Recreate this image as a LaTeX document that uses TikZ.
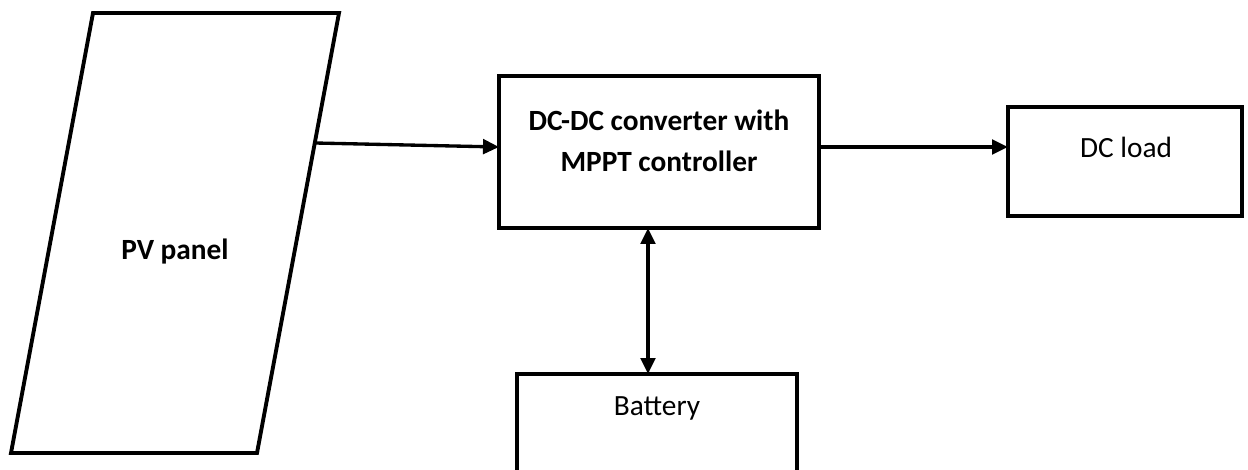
\documentclass[tikz,border=0pt]{standalone}
\usepackage{fontspec}
\setmainfont{Carlito}
\usetikzlibrary{arrows.meta}
\begin{document}
\begin{tikzpicture}[x=0.75pt,y=-0.75pt,
  box/.style={draw, line width=2.9pt, rectangle, inner sep=0pt, outer sep=0pt},
  lbl/.style={font=\fontsize{22}{30.5}\selectfont, align=center, inner sep=0pt},
  conn/.style={line width=2.5pt, -{Triangle[length=12pt,width=11pt]}},
  biconn/.style={line width=2.5pt, {Triangle[length=12pt,width=11pt]}-{Triangle[length=12pt,width=11pt]}}]
\useasboundingbox (0,0) rectangle (1248,470);
\clip (0,0) rectangle (1248,470);
% PV panel
\coordinate (pvA) at (93,13);
\coordinate (pvB) at (339,13);
\coordinate (pvC) at (257,453);
\coordinate (pvD) at (11,453);
\draw[line width=2.9pt, line join=miter] (pvA) -- (pvB) -- (pvC) -- (pvD) -- cycle;
\node[lbl, font=\fontsize{22}{30.5}\selectfont\bfseries] (pvtext) at (175,252) {PV panel};
\coordinate (pvout) at (315,143);
% DC-DC converter
\node[box, minimum width=240pt, minimum height=114pt] (dcdc) at (659,152) {};
\node[lbl, font=\fontsize{22}{30.5}\selectfont\bfseries] (dcdctext) at (659,141) {DC-DC converter with\\MPPT controller};
% DC load
\node[box, minimum width=175.5pt, minimum height=81.75pt] (load) at (1125,161.5) {};
\node[lbl] (loadtext) at (1126,147) {DC load};
% Battery
\node[box, minimum width=210pt, minimum height=82.5pt] (batt) at (657,429) {};
\node[lbl] (batttext) at (657,408) {Battery};
% connectors
\draw[conn] (pvout) -- ([yshift=3.75pt]dcdc.west);
\draw[conn] (dcdc.east |- loadtext) -- (load.west |- loadtext);
\coordinate (bx) at (648,300);
\draw[biconn] (dcdc.south -| bx) -- (batt.north -| bx);
\end{tikzpicture}
\end{document}
